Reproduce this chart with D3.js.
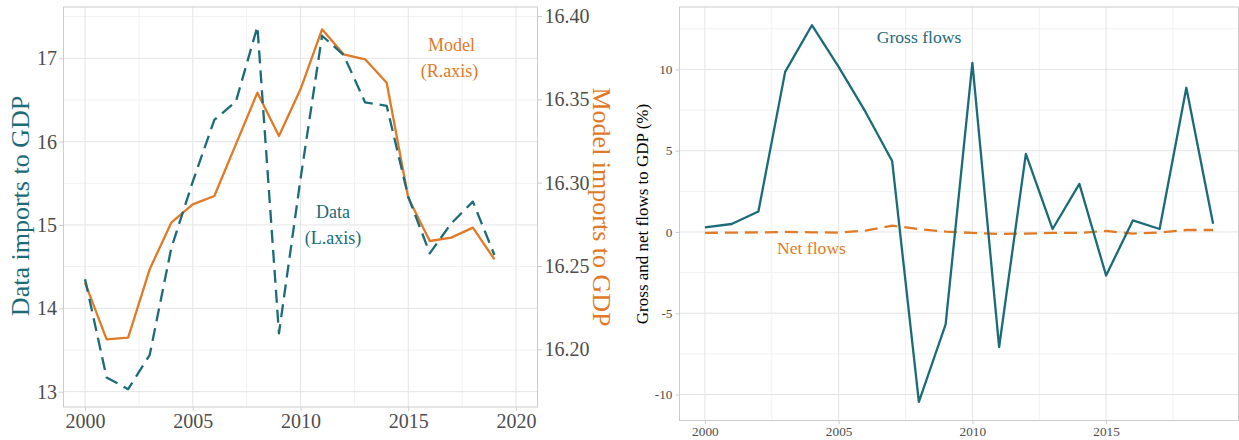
<!DOCTYPE html>
<html>
<head>
<meta charset="utf-8">
<script src="https://cdn.jsdelivr.net/npm/d3@7"></script>
<style>
  html, body { margin: 0; padding: 0; background: #ffffff; }
  svg { display: block; font-family: "Liberation Serif", "DejaVu Serif", serif; }
</style>
</head>
<body>
<svg id="chart" width="1239" height="440"></svg>
<script>
// ---- data -------------------------------------------------------------
const years = [2000, 2001, 2002, 2003, 2004, 2005, 2006, 2007, 2008, 2009,
               2010, 2011, 2012, 2013, 2014, 2015, 2016, 2017, 2018, 2019];

// Imports to GDP: observed data (left axis) and model (right axis)
const dataImports = [14.35, 13.17, 13.03, 13.44, 14.72, 15.52, 16.26, 16.48, 17.38, 13.70,
                     15.55, 17.27, 17.04, 16.47, 16.43, 15.34, 14.66, 15.02, 15.28, 14.64];
const modelImports = [16.240, 16.206, 16.207, 16.248, 16.276, 16.287, 16.292, 16.323, 16.354, 16.328,
                      16.356, 16.392, 16.377, 16.374, 16.360, 16.291, 16.265, 16.267, 16.273, 16.254];

// Gross and net flows to GDP (%)
const grossFlows = [0.28, 0.49, 1.26, 9.85, 12.72, 10.16, 7.40, 4.37, -10.45, -5.69,
                    10.40, -7.08, 4.80, 0.18, 2.96, -2.68, 0.71, 0.18, 8.87, 0.51];
const netFlows = [-0.06, -0.04, -0.03, 0.00, -0.02, -0.04, 0.08, 0.39, 0.18, 0.02,
                  -0.06, -0.12, -0.10, -0.06, -0.06, 0.06, -0.10, -0.04, 0.12, 0.12];

// tick values
const leftXTicks = [2000, 2005, 2010, 2015, 2020];
const leftYTicks = [13, 14, 15, 16, 17];
const rightAxisTicks = [16.20, 16.25, 16.30, 16.35, 16.40];
const flowXTicks = [2000, 2005, 2010, 2015];
const flowYTicks = [-10, -5, 0, 5, 10];

// ---- style ------------------------------------------------------------
const TEAL = "#1b6b78";
const ORANGE = "#e17a26";
const GRID_MAJOR = "#e4e4e4";
const GRID_MINOR = "#f1f1f1";
const BORDER = "#cccccc";
const TICK_TEXT = "#4d4d4d";
const DASH = "13,7";

const svg = d3.select("#chart");
svg.append("rect").attr("width", 1239).attr("height", 440).attr("fill", "#fff");

function gridLines(g, x, y, xMajor, xMinor, yMajor, yMinor, x0, x1, y0, y1) {
  g.selectAll(".gxm").data(xMinor).join("line")
    .attr("x1", d => x(d)).attr("x2", d => x(d)).attr("y1", y0).attr("y2", y1)
    .attr("stroke", GRID_MINOR).attr("stroke-width", 1);
  g.selectAll(".gym").data(yMinor).join("line")
    .attr("y1", d => y(d)).attr("y2", d => y(d)).attr("x1", x0).attr("x2", x1)
    .attr("stroke", GRID_MINOR).attr("stroke-width", 1);
  g.selectAll(".gxM").data(xMajor).join("line")
    .attr("x1", d => x(d)).attr("x2", d => x(d)).attr("y1", y0).attr("y2", y1)
    .attr("stroke", GRID_MAJOR).attr("stroke-width", 1);
  g.selectAll(".gyM").data(yMajor).join("line")
    .attr("y1", d => y(d)).attr("y2", d => y(d)).attr("x1", x0).attr("x2", x1)
    .attr("stroke", GRID_MAJOR).attr("stroke-width", 1);
}

function styleAxis(g, fontSize) {
  g.select(".domain").remove();
  g.selectAll(".tick line").attr("stroke", BORDER).attr("stroke-width", 1);
  g.selectAll(".tick text").attr("fill", TICK_TEXT)
    .attr("font-family", "Liberation Serif").attr("font-size", fontSize);
}

// ---- left panel: imports to GDP -----------------------------------------
{
  const L = { x0: 63.5, x1: 537.5, y0: 7, y1: 407 };
  const x = d3.scaleLinear().domain([1999, 2021]).range([L.x0, L.x1]);
  const yL = d3.scaleLinear().domain([12.816, 17.615]).range([L.y1, L.y0]);
  const yR = d3.scaleLinear().domain([16.1654, 16.4054]).range([L.y1, L.y0]);

  const g = svg.append("g");
  gridLines(g, x, yL, leftXTicks, [2002.5, 2007.5, 2012.5, 2017.5],
            leftYTicks, [13.5, 14.5, 15.5, 16.5, 17.5], L.x0, L.x1, L.y0, L.y1);

  const lineData = d3.line().x((d, i) => x(years[i])).y(d => yL(d));
  const lineModel = d3.line().x((d, i) => x(years[i])).y(d => yR(d));

  g.append("path").datum(modelImports).attr("d", lineModel)
    .attr("fill", "none").attr("stroke", ORANGE).attr("stroke-width", 2.3)
    .attr("stroke-linejoin", "round");
  g.append("path").datum(dataImports).attr("d", lineData)
    .attr("fill", "none").attr("stroke", TEAL).attr("stroke-width", 2.3)
    .attr("stroke-dasharray", DASH).attr("stroke-linejoin", "round");

  g.append("rect").attr("x", L.x0).attr("y", L.y0)
    .attr("width", L.x1 - L.x0).attr("height", L.y1 - L.y0)
    .attr("fill", "none").attr("stroke", BORDER).attr("stroke-width", 1);

  const ax = g.append("g").attr("transform", `translate(0,${L.y1})`)
    .call(d3.axisBottom(x).tickValues(leftXTicks).tickFormat(d3.format("d"))
      .tickSize(4).tickPadding(3));
  styleAxis(ax, 20);
  const ayl = g.append("g").attr("transform", `translate(${L.x0},0)`)
    .call(d3.axisLeft(yL).tickValues(leftYTicks).tickFormat(d3.format("d"))
      .tickSize(4.5).tickPadding(2));
  styleAxis(ayl, 20);
  const ayr = g.append("g").attr("transform", `translate(${L.x1},0)`)
    .call(d3.axisRight(yR).tickValues(rightAxisTicks).tickFormat(d3.format(".2f"))
      .tickSize(4.5).tickPadding(2.5));
  styleAxis(ayr, 20);

  g.append("text").attr("transform", "translate(29,206) rotate(-90)")
    .attr("text-anchor", "middle").attr("font-size", 26).attr("fill", TEAL)
    .text("Data imports to GDP");
  g.append("text").attr("transform", "translate(593,207) rotate(90)")
    .attr("text-anchor", "middle").attr("font-size", 26).attr("fill", ORANGE)
    .text("Model imports to GDP");

  g.append("text").attr("x", 451.5).attr("y", 51).attr("text-anchor", "middle")
    .attr("font-size", 18).attr("fill", ORANGE).text("Model");
  g.append("text").attr("x", 449.5).attr("y", 77).attr("text-anchor", "middle")
    .attr("font-size", 18).attr("fill", ORANGE).text("(R.axis)");
  g.append("text").attr("x", 333).attr("y", 218).attr("text-anchor", "middle")
    .attr("font-size", 18).attr("fill", TEAL).text("Data");
  g.append("text").attr("x", 333).attr("y", 244).attr("text-anchor", "middle")
    .attr("font-size", 18).attr("fill", TEAL).text("(L.axis)");
}

// ---- right panel: gross and net flows ---------------------------------
{
  const R = { x0: 679.5, x1: 1238.5, y0: 7, y1: 420.5 };
  const x = d3.scaleLinear().domain([1999.05, 2019.95]).range([R.x0, R.x1]);
  const y = d3.scaleLinear().domain([-11.6, 13.84]).range([R.y1, R.y0]);

  const g = svg.append("g");
  gridLines(g, x, y, flowXTicks, [2002.5, 2007.5, 2012.5, 2017.5],
            flowYTicks, [-7.5, -2.5, 2.5, 7.5, 12.5], R.x0, R.x1, R.y0, R.y1);

  const line = d3.line().x((d, i) => x(years[i])).y(d => y(d));
  g.append("path").datum(netFlows).attr("d", line)
    .attr("fill", "none").attr("stroke", ORANGE).attr("stroke-width", 2.3)
    .attr("stroke-dasharray", DASH).attr("stroke-linejoin", "round");
  g.append("path").datum(grossFlows).attr("d", line)
    .attr("fill", "none").attr("stroke", TEAL).attr("stroke-width", 2.3)
    .attr("stroke-linejoin", "round");

  g.append("rect").attr("x", R.x0).attr("y", R.y0)
    .attr("width", R.x1 - R.x0).attr("height", R.y1 - R.y0)
    .attr("fill", "none").attr("stroke", BORDER).attr("stroke-width", 1);

  const ax = g.append("g").attr("transform", `translate(0,${R.y1})`)
    .call(d3.axisBottom(x).tickValues(flowXTicks).tickFormat(d3.format("d"))
      .tickSize(3.5).tickPadding(3));
  styleAxis(ax, 13.3);
  const ay = g.append("g").attr("transform", `translate(${R.x0},0)`)
    .call(d3.axisLeft(y).tickValues(flowYTicks).tickFormat(d => d3.format("d")(d).replace("\u2212", "-"))
      .tickSize(4).tickPadding(3));
  styleAxis(ay, 13.3);

  g.append("text").attr("transform", "translate(648,214) rotate(-90)")
    .attr("text-anchor", "middle").attr("font-size", 17).attr("fill", "#000")
    .text("Gross and net flows to GDP (%)");

  g.append("text").attr("x", 919).attr("y", 43).attr("text-anchor", "middle")
    .attr("font-size", 17.6).attr("fill", TEAL).text("Gross flows");
  g.append("text").attr("x", 811.5).attr("y", 254).attr("text-anchor", "middle")
    .attr("font-size", 17.6).attr("fill", ORANGE).text("Net flows");
}
</script>
</body>
</html>
